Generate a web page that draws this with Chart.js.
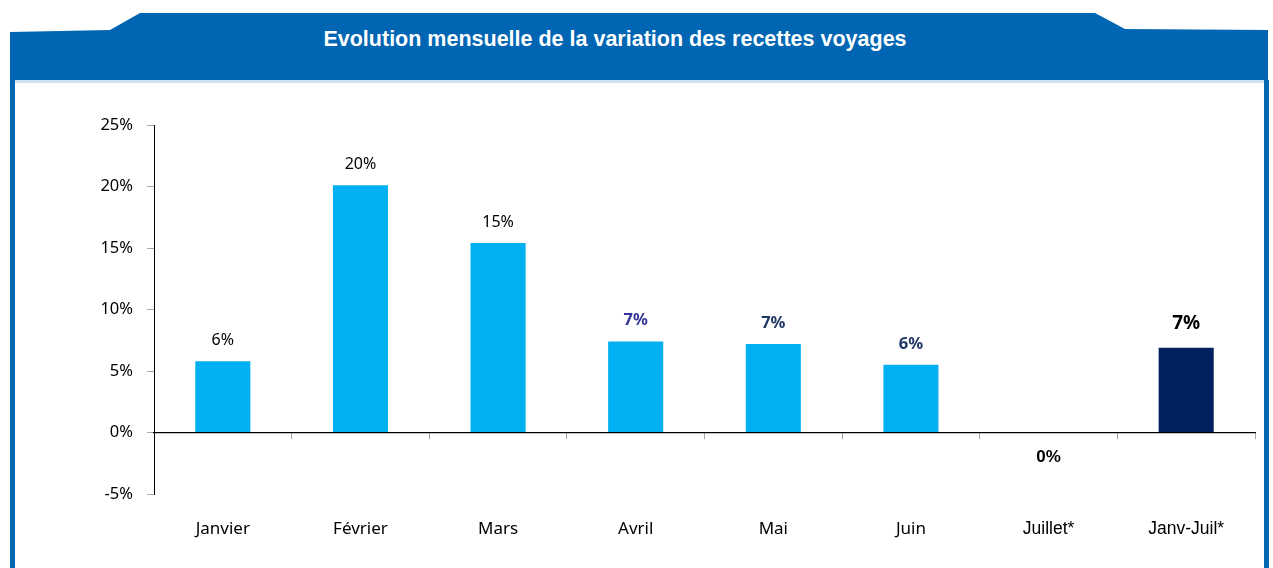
<!DOCTYPE html>
<html>
<head>
<meta charset="utf-8">
<script src="https://cdn.jsdelivr.net/npm/chart.js@4/dist/chart.umd.min.js"></script>
<style>
body { margin: 0; background: #fff; width: 1273px; height: 568px; overflow: hidden; position: relative; }
#frame { position: absolute; left: 0; top: 0; }
#title { position: absolute; left: 0; width: 1230px; top: 27px; text-align: center; color: #fff;
  font: bold 21.5px "Liberation Sans", Arial, sans-serif; }
#wrap { position: absolute; left: 15px; top: 90px; width: 1250px; height: 470px; }
</style>
</head>
<body>
<svg id="frame" width="1273" height="568">
  <polygon points="10,32 110,30 140,13 1095,13 1125,29 1268,30 1268,80 10,80" fill="#0066b3"/>
  <rect x="10" y="80" width="5" height="488" fill="#0066b3"/>
  <rect x="1264" y="80" width="5" height="488" fill="#0066b3"/>
  <rect x="15" y="80" width="1249" height="3" fill="#cfe0f0"/>
</svg>
<div id="title">Evolution mensuelle de la variation des recettes voyages</div>
<div id="wrap"><canvas id="myChart"></canvas></div>
<script>
'use strict';
let months = ['Janvier', 'Février', 'Mars', 'Avril', 'Mai', 'Juin', 'Juillet*', 'Janv-Juil*'];
let variations = [5.8, 20.1, 15.4, 7.4, 7.2, 5.5, 0, 6.9];
let valueLabels = ['6%', '20%', '15%', '7%', '7%', '6%', '0%', '7%'];
let yMin = -5;
let yMax = 25;
let yStep = 5;

let barColors = ['#00b0f0', '#00b0f0', '#00b0f0', '#00b0f0', '#00b0f0', '#00b0f0', '#00b0f0', '#002060'];
let labelColors = ['#000', '#000', '#000', '#333399', '#1f3864', '#1f3864', '#000', '#000'];
let labelFonts = [
    '16px "Noto Sans"', '16px "Noto Sans"', '16px "Noto Sans"',
    'bold 16.5px "Noto Sans"', 'bold 16.5px "Noto Sans"', 'bold 16.5px "Noto Sans"',
    'bold 17px "Liberation Sans"', 'bold 19px "Noto Sans"'
];

// value labels above (or below) each bar
const barLabels = {
    id: 'barLabels',
    afterDatasetsDraw(chart) {
        let ctx = chart.ctx;
        let meta = chart.getDatasetMeta(0);
        meta.data.forEach((bar, i) => {
            ctx.save();
            ctx.font = labelFonts[i];
            ctx.fillStyle = labelColors[i];
            ctx.textAlign = 'center';
            ctx.textBaseline = 'middle';
            let y = variations[i] > 0 ? bar.y - (i === 7 ? 24 : 21) : bar.y + 25;
            ctx.fillText(valueLabels[i], bar.x, y);
            ctx.restore();
        });
    }
};

let ctx = document.getElementById('myChart').getContext('2d');
let myChart = new Chart(ctx, {
    type: 'bar',
    data: {
        labels: months,
        datasets: [{
            data: variations,
            backgroundColor: barColors,
            borderWidth: 0,
            barPercentage: 0.4,
            categoryPercentage: 1.0
        }]
    },
    options: {
        responsive: true,
        maintainAspectRatio: false,
        animation: false,
        layout: { padding: { top: 35, right: 10, left: 0, bottom: 0 } },
        plugins: {
            legend: { display: false },
            tooltip: { enabled: false }
        },
        scales: {
            x: {
                offset: true,
                grid: { display: false },
                border: { display: false },
                ticks: {
                    color: '#000',
                    padding: 17,
                    font: (c) => (c.index >= 6 ? { family: 'Liberation Sans', size: 17.5 } : { family: 'Noto Sans', size: 17 })
                },
                afterFit: (s) => { s.height = 66; }
            },
            x2: {
                type: 'category',
                position: { y: 0 },
                offset: true,
                grid: { offset: true, drawOnChartArea: false, tickLength: 6, color: '#a6a6a6' },
                border: { color: '#000', width: 1.2 },
                ticks: { display: false }
            },
            y: {
                min: yMin,
                max: yMax,
                ticks: {
                    stepSize: yStep,
                    color: '#000',
                    padding: 14,
                    font: { family: 'Noto Sans', size: 16.5 },
                    callback: (v) => v + '%'
                },
                grid: { drawOnChartArea: false, tickLength: 7, color: '#a6a6a6' },
                border: { color: '#000', width: 1 },
                afterFit: (s) => { s.width = 139; }
            }
        }
    },
    plugins: [barLabels]
});
</script>
</body>
</html>
